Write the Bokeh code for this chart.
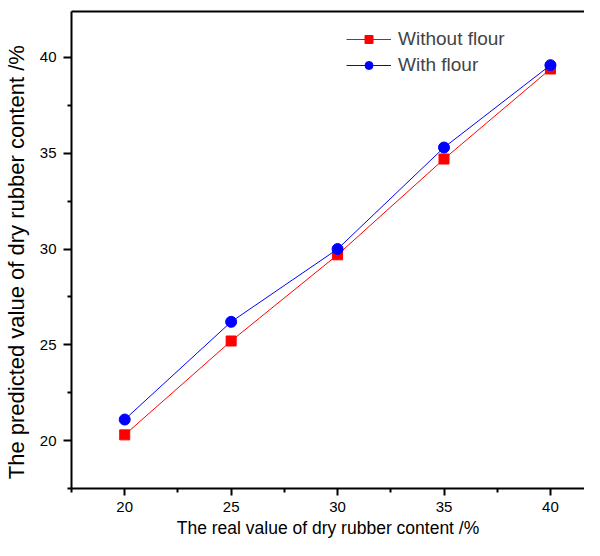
from bokeh.plotting import figure
from bokeh.models import FixedTicker, LinearAxis, Legend, LegendItem, Range1d
from bokeh.embed import file_html
from bokeh.resources import INLINE

real = [20, 25, 30, 35, 40]
without_flour = [20.3, 25.2, 29.7, 34.7, 39.4]
with_flour = [21.1, 26.2, 30.0, 35.3, 39.6]
x_ticks = [20, 25, 30, 35, 40]
y_ticks = [20, 25, 30, 35, 40]
minor = [17.5, 22.5, 27.5, 32.5, 37.5, 42.5]

FONT = "Liberation Sans"
PAD = "\u00a0" * 4

p = figure(width=584, height=540, output_backend="svg", toolbar_location=None,
           x_range=Range1d(17.5, 41.6), y_range=Range1d(17.5, 42.4),
           min_border_left=69, min_border_top=11, min_border_right=0, min_border_bottom=52)
p.grid.visible = False
p.outline_line_color = None
p.background_fill_color = "white"
p.border_fill_color = "white"

l1 = p.line(real, without_flour, line_color="#ff0000", line_width=1)
m1 = p.scatter(real, without_flour, marker="square", size=10, fill_color="#ff0000", line_color="#ff0000")
l2 = p.line(real, with_flour, line_color="#0000ff", line_width=1)
m2 = p.scatter(real, with_flour, marker="circle", size=11, fill_color="#0000ff", line_color="#0000ff")

for ax, ticks in ((p.xaxis[0], x_ticks), (p.yaxis[0], y_ticks)):
    ax.ticker = FixedTicker(ticks=ticks, minor_ticks=minor)
    ax.axis_line_width = 2
    ax.axis_line_color = "black"
    ax.major_tick_line_width = 2
    ax.minor_tick_line_width = 2
    ax.major_tick_out = 7
    ax.major_tick_in = 0
    ax.minor_tick_out = 4
    ax.minor_tick_in = 0
    ax.major_label_text_font = FONT
    ax.major_label_text_font_size = "15px"
    ax.major_label_text_color = "black"
    ax.axis_label_text_font = FONT
    ax.axis_label_text_font_style = "normal"
    ax.axis_label_text_color = "black"

p.xaxis.axis_label = "The real value of dry rubber content /%"
p.xaxis.axis_label_text_font_size = "17.5px"
p.yaxis.axis_label = "The predicted value of dry rubber content /%" + PAD
p.yaxis.axis_label_text_font_size = "22px"
p.yaxis.major_tick_out = 8
p.xaxis.major_label_standoff = 6
p.xaxis.axis_label_standoff = 3
p.yaxis.major_label_standoff = 7
p.yaxis.axis_label_standoff = 8

top = LinearAxis(ticker=FixedTicker(ticks=[]), axis_line_width=2, axis_line_color="black",
                 major_tick_line_color=None, minor_tick_line_color=None,
                 major_label_text_font_size="0px")
p.add_layout(top, "above")

legend = Legend(items=[LegendItem(label="Without flour", renderers=[l1, m1]),
                       LegendItem(label="With flour", renderers=[l2, m2])],
                location=(275, 412), border_line_color=None, background_fill_alpha=0,
                label_text_font=FONT, label_text_font_size="19px",
                glyph_width=45, glyph_height=20, spacing=4, label_standoff=7,
                padding=4, margin=0)
p.add_layout(legend)

open("out.html", "w").write(file_html(p, INLINE))
